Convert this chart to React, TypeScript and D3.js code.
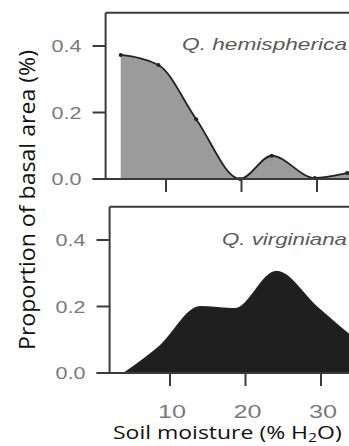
import React from 'react';
import * as d3 from 'd3';

// soil moisture (% H2O) and proportion of basal area
const hemiMoisture = [4, 9, 14, 19.8, 24, 29.7, 34, 39];
const hemiBasal = [0.373, 0.343, 0.18, 0.0, 0.07, 0.003, 0.018, 0.05];
const virgMoisture = [4, 8.7, 14, 18.6, 24.1, 29.4, 34, 39];
const virgBasal = [0.0, 0.081, 0.199, 0.193, 0.305, 0.199, 0.11, 0.03];

const yTicks = [0.0, 0.2, 0.4];
const xTicks = [10, 20, 30];

const W = 349;
const H = 446;

const axisColor = '#3a3a3a';
const tickText = '#7a7a7a';
const labelText = '#5a5a5a';

const Panel = ({ xs, ys, top, offsetX, fill, name, nameWidth, nameY, dots, showXLabels }) => {
  const x = d3.scaleLinear().domain([0, 40]).range([90.5 + offsetX, 392.5 + offsetX]);
  const y = d3.scaleLinear().domain([0, 0.4]).range([top + 133, top]);
  const pts = xs.map((v, i) => [v, ys[i]]);

  const area = d3.area()
    .x(d => x(d[0]))
    .y0(y(0))
    .y1(d => y(d[1]))
    .curve(d3.curveMonotoneX);
  const line = d3.line()
    .x(d => x(d[0]))
    .y(d => y(d[1]))
    .curve(d3.curveMonotoneX);

  const left = x(2);
  const frameTop = y(0.5);

  return (
    <g>
      <path d={area(pts)} fill={fill} />
      <path d={line(pts)} fill="none" stroke="#222" strokeWidth={1.8} />
      {dots && pts.map((d, i) => (
        <circle key={i} cx={x(d[0])} cy={y(d[1])} r={2} fill="#222" />
      ))}
      {/* frame: top and left edges, baseline */}
      <line x1={left} x2={W + 5} y1={frameTop} y2={frameTop} stroke={axisColor} strokeWidth={2} />
      <line x1={left} x2={left} y1={frameTop} y2={y(0)} stroke={axisColor} strokeWidth={2} />
      <line x1={left - 13} x2={W + 5} y1={y(0)} y2={y(0)} stroke={axisColor} strokeWidth={2} />
      {yTicks.map(t => (
        <g key={t}>
          <line x1={left - 13} x2={left} y1={y(t)} y2={y(t)} stroke={axisColor} strokeWidth={2} />
          <text x={left - 24} y={y(t) + 6} textAnchor="end" fontSize={17}
            fontFamily="Liberation Sans, Arial, sans-serif" fill={tickText}
            textLength={30} lengthAdjust="spacingAndGlyphs">{t.toFixed(1)}</text>
        </g>
      ))}
      {xTicks.map(t => (
        <g key={t}>
          <line x1={x(t)} x2={x(t)} y1={y(0)} y2={y(0) + 13} stroke={axisColor} strokeWidth={2} />
          {showXLabels && (
            <text x={x(t) + 2} y={418} textAnchor="middle" fontSize={18}
              fontFamily="Liberation Sans, Arial, sans-serif" fill={tickText}
              textLength={28} lengthAdjust="spacingAndGlyphs">{t}</text>
          )}
        </g>
      ))}
      <text x={347} y={nameY} textAnchor="end" fontSize={17} fontStyle="italic"
        fontFamily="Liberation Sans, Arial, sans-serif" fill={labelText}
        textLength={nameWidth} lengthAdjust="spacingAndGlyphs">{name}</text>
    </g>
  );
};

export default function App() {
  return (
    <svg width={W} height={H} style={{ position: 'absolute', left: 0, top: 0, background: '#fff' }}>
      <Panel xs={hemiMoisture} ys={hemiBasal} top={46} offsetX={0} fill="#9b9b9b"
        name="Q. hemispherica" nameWidth={165} nameY={50} dots showXLabels={false} />
      <Panel xs={virgMoisture} ys={virgBasal} top={240} offsetX={4} fill="#1f1f1f"
        name="Q. virginiana" nameWidth={125} nameY={245} dots={false} showXLabels />
      <text transform="translate(35,200) rotate(-90)" textAnchor="middle" fontSize={22}
        fontFamily="Open Sans, sans-serif" fill="#111" textLength={300}
        lengthAdjust="spacingAndGlyphs">Proportion of basal area (%)</text>
      <text transform="translate(113,439) scale(1.21,1)" x={0} y={0} fontSize={19}
        fontFamily="Open Sans, sans-serif" fill="#111">
        Soil moisture (% H<tspan fontSize={13} dy={3}>2</tspan><tspan dy={-3}>O)</tspan>
      </text>
    </svg>
  );
}
